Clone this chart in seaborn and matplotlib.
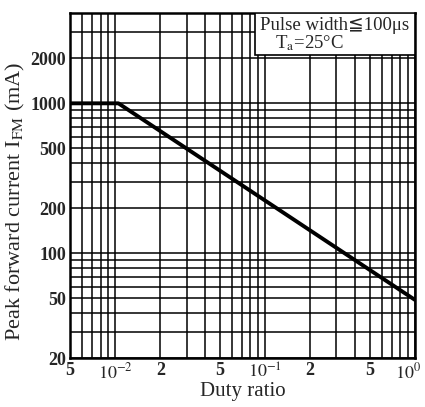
import matplotlib
matplotlib.use("Agg")
import matplotlib.pyplot as plt
import matplotlib.ticker as mticker
import matplotlib.transforms as mtransforms
from matplotlib.patches import Rectangle
import seaborn as sns
import numpy as np
import pandas as pd

# curve: flat at 1000 mA up to duty 1e-2, then falls to ~50 mA at 1
duty_ratio = [0.005, 0.0105, 1.0]
peak_current = [1000, 1000, 49]

x_tick_values = [0.005, 0.01, 0.02, 0.05, 0.1, 0.2, 0.5, 1.0]
x_tick_labels = ["5", r"$10^{-2}$", "2", "5", r"$10^{-1}$", "2", "5", r"$10^{0}$"]
y_tick_values = [20, 50, 100, 200, 500, 1000, 2000]
y_tick_labels = ["20", "50", "100", "200", "500", "1000", "2000"]

sns.set_style("white")
plt.rcParams["font.family"] = ["Liberation Serif", "DejaVu Serif", "DejaVu Sans"]
plt.rcParams["mathtext.fontset"] = "stix"

df = pd.DataFrame({"duty": duty_ratio, "current": peak_current})

fig = plt.figure(figsize=(4.25, 4.07), dpi=100)
ax = fig.add_axes([0.165, 0.12, 0.811, 0.848])

ax.set_xscale("log")
ax.set_yscale("log")
ax.set_xlim(0.005, 1.0)
ax.set_ylim(20, 4000)

# full grid on every 1..9 step of each decade
grid_x = [m * 10.0 ** e for e in (-3, -2, -1) for m in range(1, 10)] + [1.0]
grid_x = [v for v in grid_x if 0.005 <= v <= 1.0]
grid_y = [m * 10.0 ** e for e in (1, 2, 3) for m in range(1, 10)]
grid_y = [v for v in grid_y if 20 <= v <= 4000]
for v in grid_x:
    ax.axvline(v, color="black", lw=1.1, zorder=1)
for v in grid_y:
    ax.axhline(v, color="black", lw=1.1, zorder=1)

sns.lineplot(data=df, x="duty", y="current", ax=ax, color="black", lw=2.8, zorder=3)

ax.xaxis.set_major_locator(mticker.FixedLocator(x_tick_values))
ax.xaxis.set_major_formatter(mticker.FixedFormatter(x_tick_labels))
ax.xaxis.set_minor_locator(mticker.NullLocator())
ax.yaxis.set_major_locator(mticker.FixedLocator(y_tick_values))
ax.yaxis.set_major_formatter(mticker.FixedFormatter(y_tick_labels))
ax.yaxis.set_minor_locator(mticker.NullLocator())
ax.tick_params(length=0, pad=3, labelsize=13)
for lab in ax.get_xticklabels() + ax.get_yticklabels():
    lab.set_fontweight("bold")

# the last label sits on the right edge, pull it in a little
last = ax.get_xticklabels()[-1]
last.set_transform(last.get_transform() +
                   mtransforms.ScaledTranslation(-7 / 100, 0, fig.dpi_scale_trans))

for s in ax.spines.values():
    s.set_color("black")
    s.set_linewidth(1.8)

ax.set_xlabel("Duty ratio", fontsize=15, labelpad=0)
ax.set_ylabel(r"Peak forward current I$_{\rm FM}$ (mA)", fontsize=16, labelpad=2)
ax.yaxis.set_label_coords(-0.125, 0.455)

# conditions box in the top right corner
ax.add_patch(Rectangle((0.536, 0.878), 0.464, 0.122, transform=ax.transAxes,
                       fc="white", ec="black", lw=1.2, zorder=4))
ax.text(0.767, 0.963, "Pulse width\u2266100\u03bcs", transform=ax.transAxes,
        ha="center", va="center", fontsize=13.5, zorder=5,
        family=["Liberation Serif", "DejaVu Sans"])
ax.text(0.693, 0.912, "T$_{\\rm a}$=25\u00b0C", transform=ax.transAxes,
        ha="center", va="center", fontsize=13.5, zorder=5)

fig.savefig("out.png", dpi=100)
